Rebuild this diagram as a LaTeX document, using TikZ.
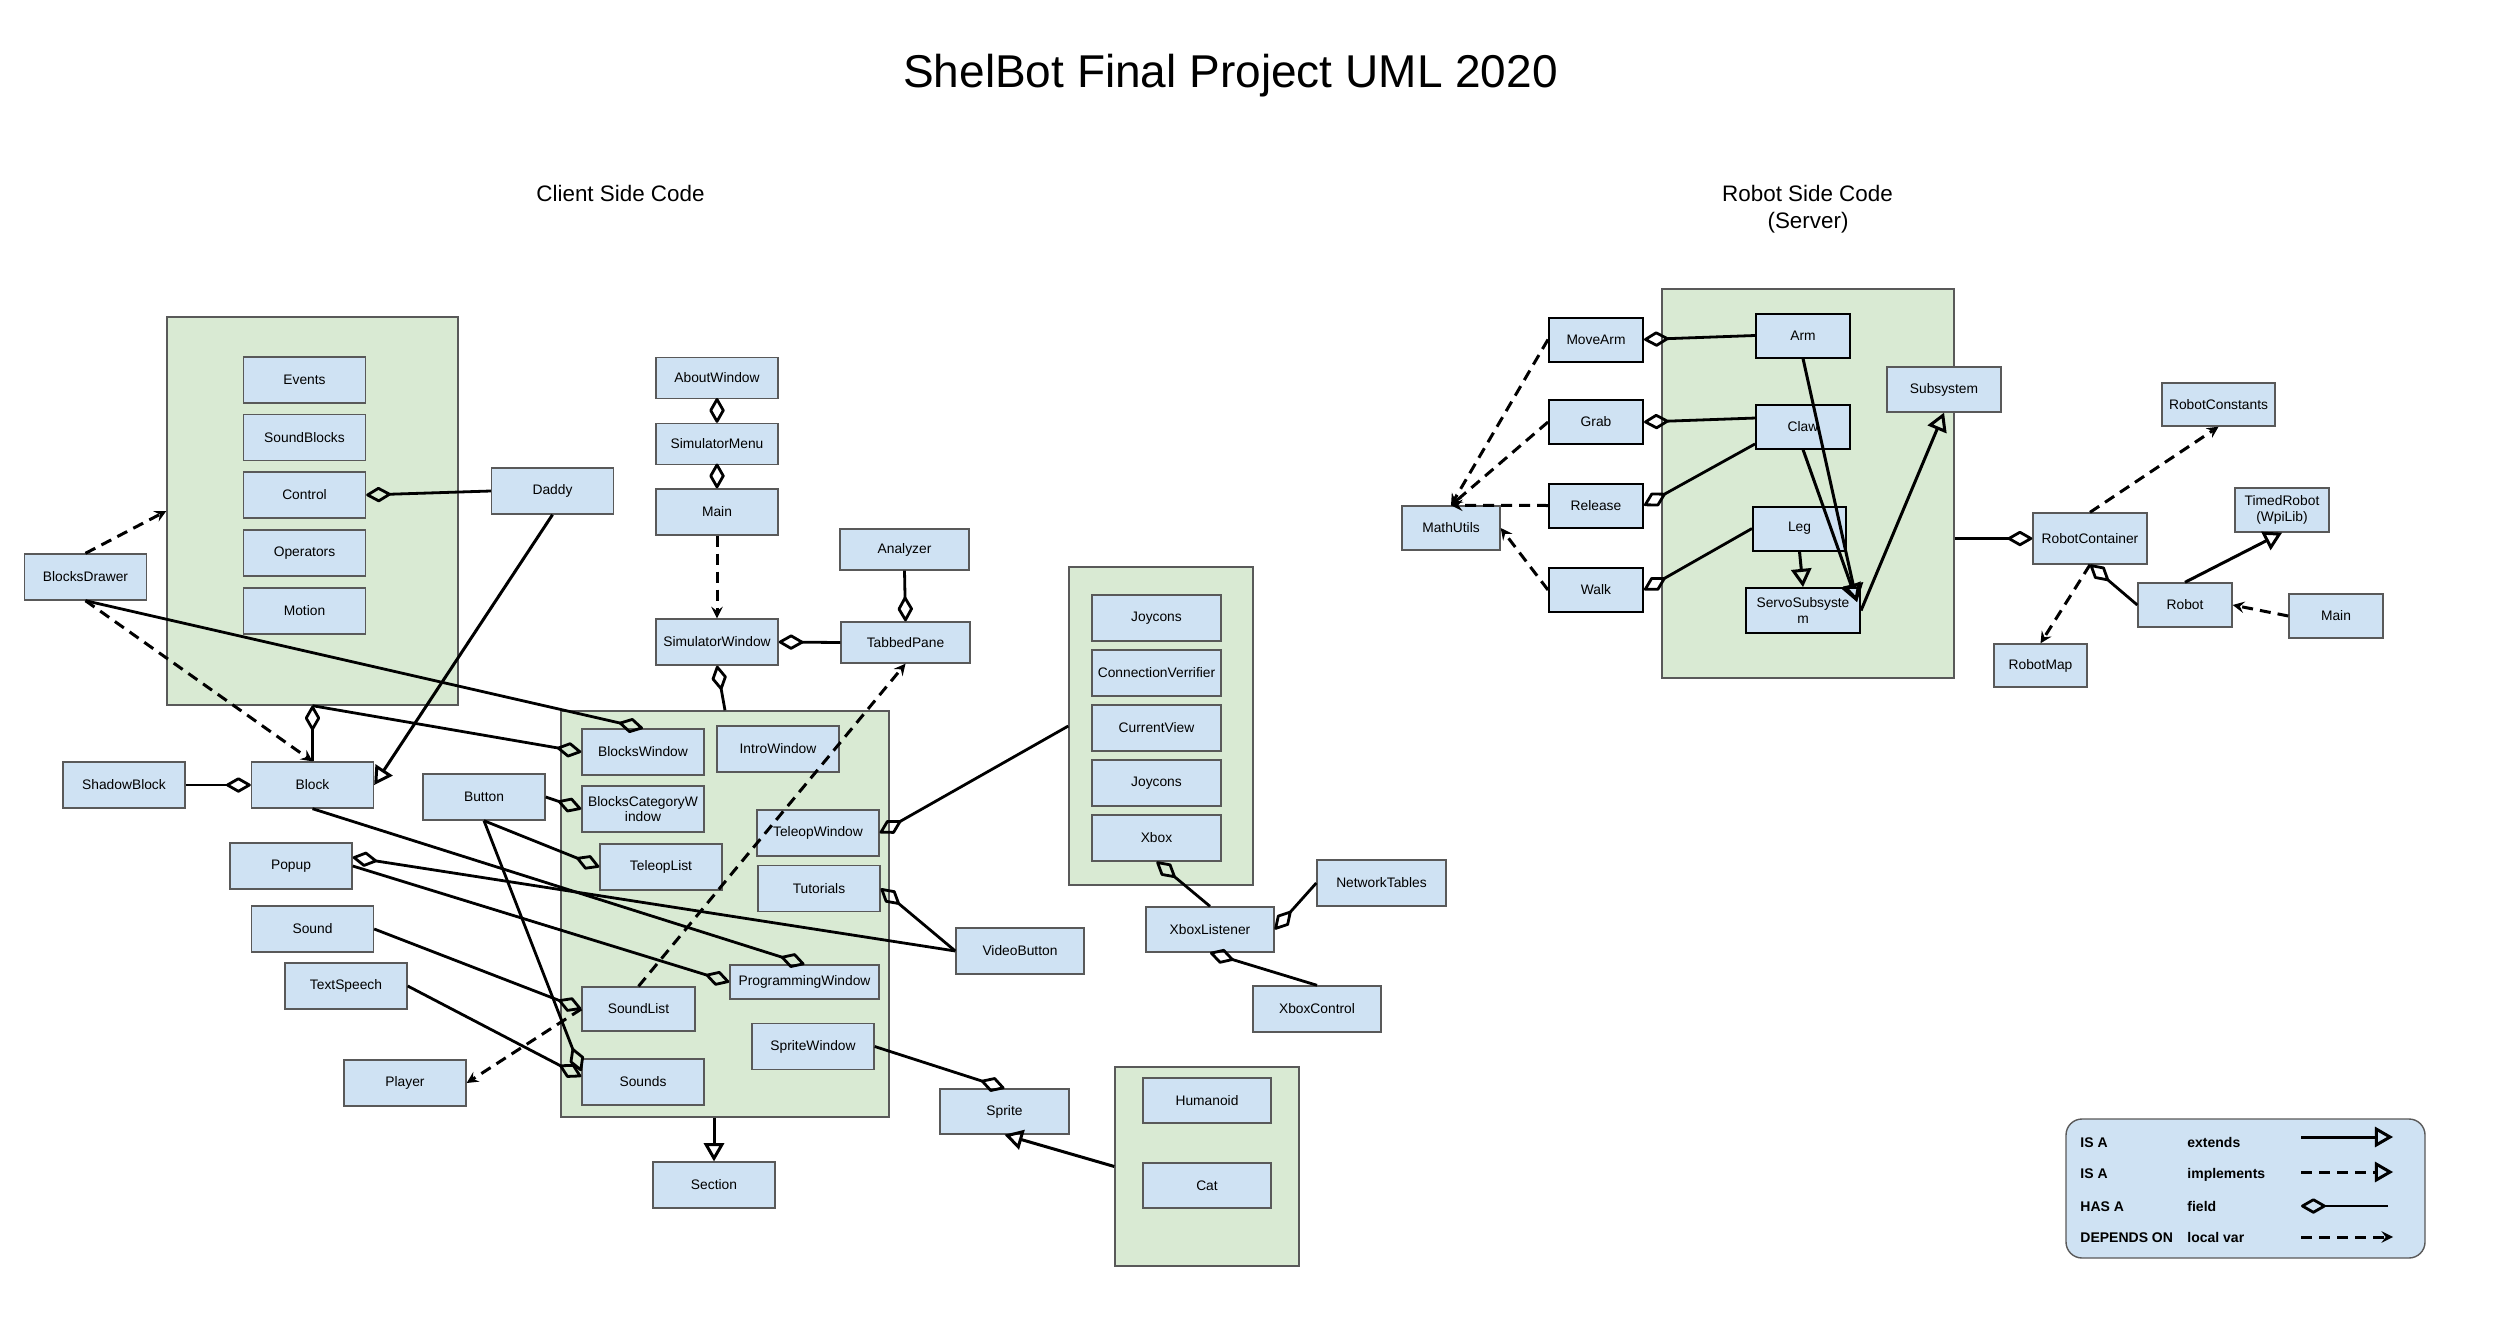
\documentclass[tikz,border=0pt]{standalone}
\usepackage{fontspec}
\setmainfont{Liberation Sans}
\usepackage{tikz}
\usetikzlibrary{arrows}
\definecolor{clsfill}{RGB}{207,226,243}
\definecolor{grpfill}{RGB}{217,234,211}
\definecolor{clsline}{RGB}{89,89,89}
\newcommand{\clsfont}{\fontsize{6.9}{7.8}\selectfont}
\newcommand{\legfont}{\fontsize{7}{8}\selectfont\bfseries}

\begin{document}
\begin{tikzpicture}[x=0.5pt, y=-0.5pt,
	cls/.style={rectangle, draw=clsline, fill=clsfill, line width=0.7pt, minimum width=61pt, minimum height=23pt, inner sep=1pt, align=center, font=\clsfont},
	robocls/.style={cls, draw=black, line width=1pt, minimum width=47pt, minimum height=22pt},
	grp/.style={rectangle, draw=clsline, fill=grpfill, line width=0.7pt},
	legtext/.style={anchor=base west, inner sep=0pt, font=\legfont},
	hasa/.style={line width=1.4pt, -open diamond},
	isa/.style={line width=1.5pt, -open triangle 60},
	impl/.style={isa, dash pattern=on 5.5pt off 3.5pt},
	uses/.style={line width=1.5pt, dash pattern=on 5.5pt off 3.5pt, -stealth}]

\useasboundingbox (0,0) rectangle (2500,1327);

\node[anchor=base, font=\fontsize{23}{27}\selectfont] (title) at (1230.5,88) {ShelBot Final Project UML 2020};
\node[anchor=base, font=\fontsize{11.2}{13.5}\selectfont] (client) at (620.5,201) {Client Side Code};
\node[anchor=base, font=\fontsize{11.2}{13.5}\selectfont] (robotside) at (1807.5,201) {Robot Side Code};
\node[anchor=base, font=\fontsize{11.2}{13.5}\selectfont] (server) at (1808,228) {(Server)};

\node[grp, minimum width=145.5pt, minimum height=194pt] (blocksGrp) at (312.5,511) {};
	\node[cls] (Events) at (304.5,380) {Events};
	\node[cls] (SoundBlocks) at (304.5,437.5) {SoundBlocks};
	\node[cls] (Control) at (304.5,495) {Control};
	\node[cls] (Operators) at (304.5,553) {Operators};
	\node[cls] (Motion) at (304.5,611) {Motion};
\node[grp, minimum width=164pt, minimum height=203pt] (windowGrp) at (725,914) {};
	\node[cls] (BlocksWindow) at (643,752) {BlocksWindow};
	\node[cls] (IntroWindow) at (778,749) {IntroWindow};
	\node[cls] (BlocksCategoryWindow) at (643,809) {BlocksCategoryW\\indow};
	\node[cls] (TeleopWindow) at (818,833) {TeleopWindow};
	\node[cls] (TeleopList) at (661,867) {TeleopList};
	\node[cls] (Tutorials) at (819,888.5) {Tutorials};
	\node[cls, minimum width=74.5pt, minimum height=17pt] (ProgrammingWindow) at (804.5,982) {ProgrammingWindow};
	\node[cls, minimum width=56.5pt, minimum height=22pt] (SoundList) at (638.5,1009) {SoundList};
	\node[cls] (SpriteWindow) at (813,1046.5) {SpriteWindow};
	\node[cls] (Sounds) at (643,1082) {Sounds};
\node[grp, minimum width=92pt, minimum height=159pt] (inputGrp) at (1161,726) {};
	\node[cls, minimum width=64.5pt] (Joycons) at (1156.5,618) {Joycons};
	\node[cls, minimum width=64.5pt] (ConnectionVerrifier) at (1156.5,673) {ConnectionVerrifier};
	\node[cls, minimum width=64.5pt] (CurrentView) at (1156.5,728) {CurrentView};
	\node[cls, minimum width=64.5pt] (JoyconsB) at (1156.5,783) {Joycons};
	\node[cls, minimum width=64.5pt] (Xbox) at (1156.5,838) {Xbox};
\node[grp, minimum width=92pt, minimum height=99.5pt] (spriteGrp) at (1207,1166.5) {};
	\node[cls, minimum width=64pt, minimum height=22.5pt] (Humanoid) at (1207,1100.5) {Humanoid};
	\node[cls, minimum width=64pt, minimum height=22.5pt] (Cat) at (1207,1185.5) {Cat};

\node[cls] (Daddy) at (552.5,491) {Daddy};
\node[cls] (BlocksDrawer) at (85.5,577) {BlocksDrawer};
\node[cls] (ShadowBlock) at (124,785) {ShadowBlock};
\node[cls] (Block) at (312.5,785) {Block};
\node[cls] (Button) at (484,797) {Button};
\node[cls] (Popup) at (291,866) {Popup};
\node[cls] (Sound) at (312.5,929) {Sound};
\node[cls] (TextSpeech) at (346,986) {TextSpeech};
\node[cls] (Player) at (405,1083) {Player};
\node[cls, minimum height=20.5pt] (AboutWindow) at (717,378) {AboutWindow};
\node[cls, minimum height=20.5pt] (SimulatorMenu) at (717,444) {SimulatorMenu};
\node[cls] (Main) at (717,512) {Main};
\node[cls] (SimulatorWindow) at (717,642) {SimulatorWindow};
\node[cls, minimum width=64.5pt, minimum height=20.5pt] (Analyzer) at (904.5,549.5) {Analyzer};
\node[cls, minimum width=64.5pt, minimum height=20.5pt] (TabbedPane) at (905.5,642.5) {TabbedPane};
\node[cls] (Section) at (714,1185) {Section};
\node[cls, minimum width=64pt] (VideoButton) at (1020,951) {VideoButton};
\node[cls, minimum width=64pt, minimum height=22.5pt] (XboxListener) at (1210,929.5) {XboxListener};
\node[cls, minimum width=64.5pt] (NetworkTables) at (1381.5,883) {NetworkTables};
\node[cls, minimum width=64pt] (XboxControl) at (1317,1009) {XboxControl};
\node[cls, minimum width=64.5pt, minimum height=22.5pt] (Sprite) at (1004.5,1111.5) {Sprite};

\node[grp, minimum width=146pt, minimum height=194.5pt] (robotGrp) at (1808,483.5) {};
	\node[robocls] (Arm) at (1803,335.5) {Arm};
	\node[robocls] (Claw) at (1803,426.5) {Claw};
	\node[robocls, minimum width=46.5pt] (Leg) at (1799.5,528.5) {Leg};
	\node[robocls, minimum width=57pt, minimum height=22.5pt] (ServoSubsystem) at (1803,610.5) {ServoSubsyste\\m};
\node[robocls] (MoveArm) at (1596,339.5) {MoveArm};
\node[robocls] (Grab) at (1596,422) {Grab};
\node[robocls] (Release) at (1596,505.5) {Release};
\node[robocls] (Walk) at (1596,590) {Walk};
\node[cls, minimum width=49pt, minimum height=22pt] (MathUtils) at (1451,528) {MathUtils};
\node[cls, minimum width=57pt, minimum height=22.5pt] (Subsystem) at (1944,389.5) {Subsystem};
\node[cls, minimum width=56.5pt, minimum height=21.5pt] (RobotConstants) at (2218.5,404.5) {RobotConstants};
\node[cls, minimum width=47pt, minimum height=22pt] (TimedRobot) at (2282,510) {TimedRobot\\(WpiLib)};
\node[cls, minimum width=57pt, minimum height=25.5pt] (RobotContainer) at (2090,538.5) {RobotContainer};
\node[cls, minimum width=47pt, minimum height=22pt] (Robot) at (2185,605) {Robot};
\node[cls, minimum width=47pt, minimum height=22pt] (MainB) at (2336,616) {Main};
\node[cls, minimum width=46.5pt, minimum height=21.5pt] (RobotMap) at (2040.5,665.5) {RobotMap};
\coordinate (servoTip) at (1857,602);

\draw[uses] (BlocksDrawer.north) -- (blocksGrp.west);
\draw[hasa] (BlocksDrawer.south) -- (BlocksWindow.north);
\draw[uses] (BlocksDrawer.south) -- (Block.north);
\draw[hasa] (Block.north) -- (blocksGrp.south);
\draw[hasa] (blocksGrp.south) -- (BlocksWindow.west);
\draw[isa] (Daddy.south) -- (Block.east);
\draw[hasa] (Daddy.west) -- (Control.east);
\draw[hasa] (ShadowBlock.east) -- (Block.west);
\draw[hasa] (Block.south) -- (ProgrammingWindow.north);
\draw[hasa] (Button.east) -- (BlocksCategoryWindow.west);
\draw[hasa] (Button.south) -- (TeleopList.west);
\draw[hasa] (Button.south) -- (Sounds.170);
\draw[hasa] (VideoButton.west) -- (Popup.8);
\draw[hasa] (Popup.east) -- (ProgrammingWindow.west);
\draw[hasa] (Sound.east) -- (SoundList.west);
\draw[hasa] (TextSpeech.east) -- (Sounds.175);
\draw[uses] (SoundList.west) -- (Player.east);
\draw[uses] (SoundList.north) -- (TabbedPane.south);
\draw[isa] (windowGrp.south -| Section.north) -- (Section.north);
\draw[hasa] (SpriteWindow.east) -- (Sprite.north);
\draw[isa] (spriteGrp.west) -- (Sprite.south);
\draw[hasa] (inputGrp.west) -- (TeleopWindow.east);
\draw[hasa] (VideoButton.west) -- (Tutorials.east);
\draw[hasa] (XboxListener.north) -- (Xbox.south);
\draw[hasa] (NetworkTables.west) -- (XboxListener.east);
\draw[hasa] (XboxControl.north) -- (XboxListener.south);
\draw[hasa] (AboutWindow.south) -- (SimulatorMenu.north);
\draw[hasa] (SimulatorMenu.south) -- (Main.north);
\draw[uses] (Main.south) -- (SimulatorWindow.north);
\draw[hasa] (TabbedPane.west) -- (SimulatorWindow.east);
\draw[hasa] (Analyzer.south) -- (TabbedPane.north);
\draw[hasa] (windowGrp.north) -- (SimulatorWindow.south);

\draw[hasa] (Arm.west) -- (MoveArm.east);
\draw[hasa] (Claw.170) -- (Grab.east);
\draw[hasa] (Claw.200) -- (Release.east);
\draw[hasa] (Leg.west) -- (Walk.east);
\draw[uses] (MoveArm.west) -- (MathUtils.north);
\draw[uses] (Grab.west) -- (MathUtils.north);
\draw[uses] (Release.west) -- (MathUtils.north);
\draw[uses] (Walk.west) -- (MathUtils.east);
\draw[isa] (Leg.south) -- (ServoSubsystem.north);
\draw[isa] (Arm.south) -- (servoTip);
\draw[isa] (Claw.south) -- (servoTip);
\draw[isa] (ServoSubsystem.east) -- (Subsystem.south);
\draw[hasa] (robotGrp.east |- RobotContainer.west) -- (RobotContainer.west);
\draw[uses] (RobotContainer.north) -- (RobotConstants.south);
\draw[uses] (RobotContainer.south) -- (RobotMap.north);
\draw[hasa] (Robot.west) -- (RobotContainer.south);
\draw[isa] (Robot.north) -- (TimedRobot.south);
\draw[uses] (MainB.west) -- (Robot.east);

\node[rectangle, draw=clsline, fill=clsfill, line width=0.7pt, rounded corners=8pt, minimum width=179.5pt, minimum height=69.5pt] (legend) at (2245.5,1188.5) {};
	\node[legtext] (lgIsA) at (2080,1147) {IS A};
	\node[legtext] (lgExtends) at (2187,1147) {extends};
	\node[legtext] (lgIsB) at (2080,1178) {IS A};
	\node[legtext] (lgImplements) at (2187,1178) {implements};
	\node[legtext] (lgHasA) at (2080,1211) {HAS A};
	\node[legtext] (lgField) at (2187,1211) {field};
	\node[legtext] (lgDepends) at (2080,1242) {DEPENDS ON};
	\node[legtext] (lgLocal) at (2187,1242) {local var};
	\coordinate (extA) at (2301,1137);
	\coordinate (extB) at (2393,1137);
	\coordinate (implA) at (2301,1172);
	\coordinate (implB) at (2393,1172);
	\coordinate (fieldA) at (2301,1206);
	\coordinate (fieldB) at (2388,1206);
	\coordinate (localA) at (2301,1237);
	\coordinate (localB) at (2393,1237);

\draw[isa] (extA) -- (extB);
\draw[impl] (implA) -- (implB);
\draw[hasa] (fieldB) -- (fieldA);
\draw[uses] (localA) -- (localB);

\end{tikzpicture}
\end{document}
